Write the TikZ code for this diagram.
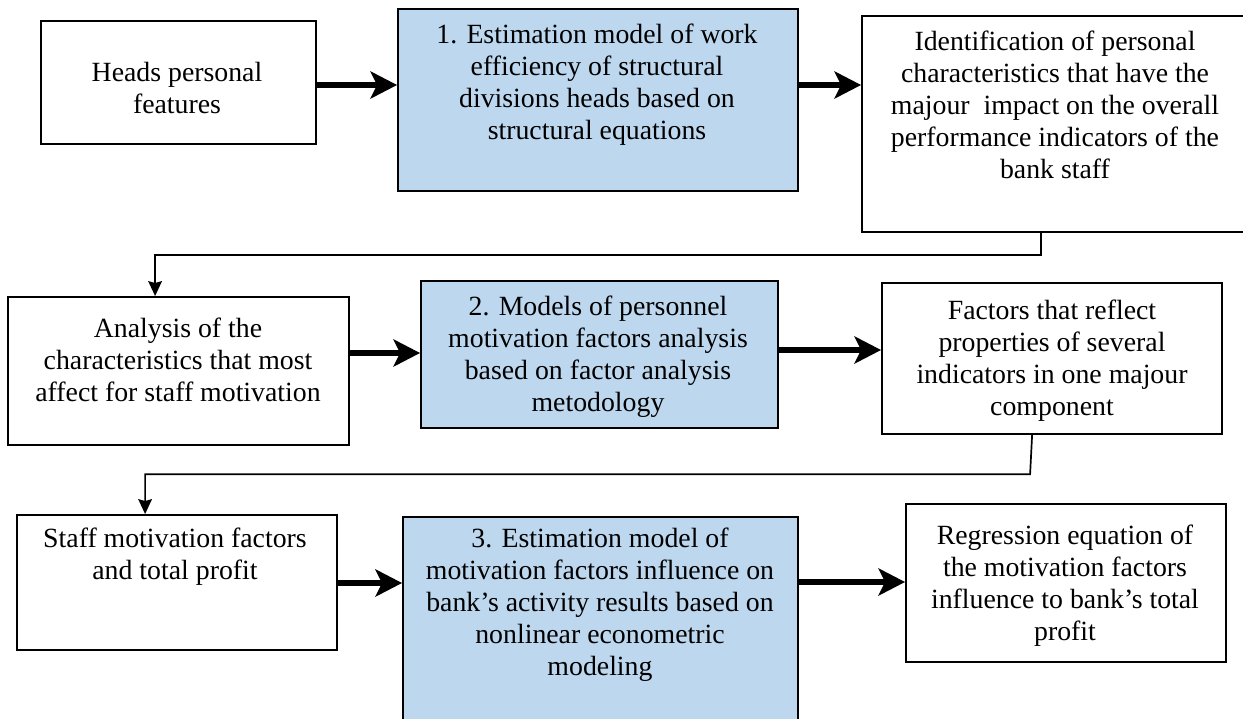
\documentclass[tikz,border=0pt]{standalone}
\usepackage{fontspec}
\setmainfont{Liberation Serif}
\usepackage{xcolor}
\usetikzlibrary{arrows.meta}

\definecolor{modelblue}{RGB}{189,215,238}

\begin{document}
\begin{tikzpicture}[x=1pt, y=-1pt, font=\fontsize{27.8}{32}\selectfont,
		box/.style={draw=black, line width=2.2pt, anchor=north west, inner sep=0pt},
		model/.style={box, fill=modelblue},
		txt/.style={align=center, inner sep=0pt},
		flow/.style={line width=5.5pt, -{Stealth[length=27pt, width=28pt, inset=7pt, line width=0pt]}},
		conn/.style={line width=1.7pt, -{Stealth[length=15pt, width=14pt, inset=2pt, line width=0pt]}}
		]
		\useasboundingbox (0,0) rectangle (1243,718);
		
		\node[box, minimum width=275pt, minimum height=123pt] (heads) at (40,20) {};
		\node[model, minimum width=400pt, minimum height=182pt] (model1) at (397,8) {};
		\node[box, minimum width=387pt, minimum height=216pt] (ident) at (861,15) {};
		
		\node[box, minimum width=341pt, minimum height=148pt] (anal) at (7,296) {};
		\node[model, minimum width=357pt, minimum height=147pt] (model2) at (420,280) {};
		\node[box, minimum width=340pt, minimum height=151pt] (factors) at (881,282) {};
		
		\node[box, minimum width=320pt, minimum height=135pt] (staff) at (16,514) {};
		\node[model, minimum width=395pt, minimum height=240pt] (model3) at (402,516) {};
		\node[box, minimum width=320pt, minimum height=158pt] (regr) at (905,503) {};
		
		\node[txt] (heads-t) at (177,88) {Heads personal\\features};
		\node[txt] (model1-t) at (597,85) {1. Estimation model of work\\efficiency of structural\\divisions heads based on\\structural equations};
		\node[txt] (ident-t) at (1055,105) {Identification of personal\\characteristics that have the\\majour~ impact on the overall\\performance indicators of the\\bank staff};
		
		\node[txt] (anal-t) at (178,360) {Analysis of the\\characteristics that most\\affect for staff motivation};
		\node[txt] (model2-t) at (598,357) {2. Models of personnel\\motivation factors analysis\\based on factor analysis\\metodology};
		\node[txt] (factors-t) at (1052,361) {Factors that reflect\\properties of several\\indicators in one majour\\component};
		
		\node[txt] (staff-t) at (175,557) {Staff motivation factors\\and total profit};
		\node[txt] (model3-t) at (600,605) {3. Estimation model of\\motivation factors influence on\\bank’s activity results based on\\nonlinear econometric\\modeling};
		\node[txt] (regr-t) at (1065,586) {Regression equation of\\the motivation factors\\influence to bank’s total\\profit};
		
		\draw[flow] (heads.east |- 0,85) -- (model1.west |- 0,85);
		\draw[flow] (model1.east |- 0,85) -- (ident.west |- 0,85);
		\draw[flow] (anal.east |- 0,353) -- (model2.west |- 0,353);
		\draw[flow] (model2.east |- 0,350) -- (factors.west |- 0,350);
		\draw[flow] (staff.east |- 0,583) -- (model3.west |- 0,583);
		\draw[flow] (model3.east |- 0,582) -- (regr.west |- 0,582);
		
		\draw[conn] ([xshift=-14.5pt]ident.south) -- ++(0,22) -| ([xshift=-23.5pt]anal.north);
		\draw[conn] ([xshift=-20pt]factors.south) -- ++(-2,39) -| ([xshift=-32pt]staff.north);
\end{tikzpicture}
\end{document}
